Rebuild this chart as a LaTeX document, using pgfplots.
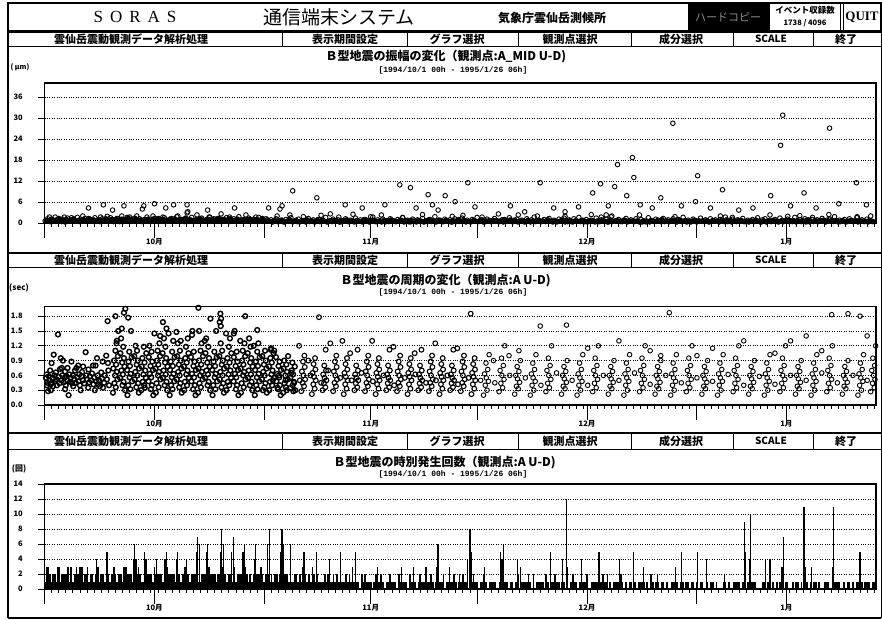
\documentclass[border=0pt]{standalone}
\usepackage{fontspec}
\usepackage{pgfplots}
\usepackage{pgfplotstable}
\pgfplotsset{compat=1.18}
\newfontfamily\jp{Noto Sans CJK JP}
\newfontfamily\lserif{Liberation Serif}
\newfontfamily\lmono{Liberation Mono}
\newcommand\tickfont{\jp\bfseries\fontsize{7.5}{7.5}\selectfont}
\newcommand\menufont{\jp\bfseries\fontsize{11}{11}\selectfont}
\newcommand\titlefont{\jp\bfseries\fontsize{12}{12}\selectfont}
\newcommand\subfont{\lmono\bfseries\fontsize{8}{8}\selectfont}

\pgfplotsset{
  soras/.style={
    scale only axis, width=831.5pt,
    xmin=0, xmax=117.25, clip=false,
    axis line style={line width=1.3pt, black},
    tick pos=left, tick align=outside,
    xtick={0,31,61,92}, xticklabels={},
    minor xtick={1,2,...,117},
    xtick style={/pgfplots/major tick length=15pt, /pgfplots/minor tick length=4pt, line width=0.9pt, black},
    ytick style={/pgfplots/major tick length=6pt, line width=0.9pt, black},
    extra x ticks={15.5,46,76.5,104.6},
    extra x tick labels={10月,11月,12月,1月},
    extra x tick style={grid=none, /pgfplots/major tick length=0pt, xticklabel style={yshift=-12pt}},
    ymajorgrids, grid style={dotted, line width=0.7pt, black},
    ticklabel style={font=\tickfont},
    yticklabel style={xshift=-14pt},
    /pgf/number format/assume math mode=true,
  },
  circ/.style={only marks, mark=o, mark size=2.3pt, mark options={line width=0.9pt, black}},
  circm/.style={only marks, mark=o, mark size=2.4pt, mark options={line width=1.1pt, black}},
  circb/.style={only marks, mark=o, mark size=2.4pt, mark options={line width=1.4pt, black}},
  dot/.style={only marks, mark=*, mark size=2.5pt, mark options={black}},
}

\newcommand\menubar[3]{%
  \draw[line width=1.6pt] (8,#1) -- (881,#1);
  \draw[line width=1pt] (8,#2) -- (881,#2);
  \foreach \xx in {282,407,518,631,733,813} \draw[line width=1pt] (\xx,#1) -- (\xx,#2);
  \node[font=\menufont] at (131,#3) {雲仙岳震動観測データ解析処理};
  \node[font=\menufont] at (345,#3) {表示期間設定};
  \node[font=\menufont] at (457,#3) {グラフ選択};
  \node[font=\menufont] at (570,#3) {観測点選択};
  \node[font=\menufont] at (681,#3) {成分選択};
  \node[font=\jp\bfseries\fontsize{10}{10}\selectfont] at (771,#3) {SCALE};
  \node[font=\menufont] at (846,#3) {終了};
}

% amplitude: small events (open circles), step 0.35 day from day 0.1
\pgfplotstableread[row sep=\\]{v\\
.6\\1.2\\.4\\.9\\1.7\\.5\\.8\\1.1\\.3\\1.4\\
.7\\1.0\\.5\\1.6\\.4\\.9\\1.3\\.6\\1.1\\.5\\
1.5\\.8\\.4\\1.2\\.7\\1.9\\.5\\1.0\\.6\\1.3\\
.4\\1.1\\.8\\1.6\\.5\\.9\\1.4\\.7\\1.2\\.4\\
1.0\\1.7\\.6\\.9\\1.3\\.5\\1.1\\.8\\1.5\\.6\\
.9\\1.3\\.5\\1.8\\.7\\1.0\\.4\\1.2\\.8\\1.6\\
.5\\1.1\\.9\\1.4\\.6\\1.0\\1.7\\.5\\1.2\\.8\\
1.3\\.6\\1.0\\1.5\\.4\\.9\\1.2\\.7\\1.8\\.5\\
1.0\\.7\\1.4\\.5\\1.1\\.8\\1.6\\.6\\.9\\1.2\\
.6\\.9\\.4\\1.2\\.5\\.8\\.3\\1.0\\.6\\1.5\\
.4\\.8\\1.1\\.5\\.7\\.3\\1.3\\.6\\.9\\.4\\
1.0\\.5\\.8\\1.6\\.4\\.7\\1.1\\.5\\.9\\.3\\
.7\\1.2\\.4\\.8\\.6\\1.4\\.5\\.9\\.3\\1.0\\
.5\\.8\\1.7\\.4\\.9\\.6\\1.1\\.3\\.7\\1.2\\
.6\\.4\\1.0\\.7\\1.5\\.5\\.8\\.3\\1.1\\.6\\
.9\\.5\\1.3\\.4\\.7\\1.0\\.6\\1.8\\.5\\.8\\
.4\\1.1\\.6\\.9\\.3\\1.2\\.7\\.5\\1.4\\.6\\
.8\\.4\\1.0\\.6\\1.6\\.5\\.9\\.3\\1.1\\.7\\
.5\\1.3\\.7\\.4\\.9\\1.0\\.6\\1.5\\.4\\.8\\
1.1\\.5\\.8\\.3\\1.2\\.6\\.9\\1.7\\.5\\.7\\
.4\\1.0\\.6\\1.3\\.5\\.8\\.3\\1.1\\.7\\1.4\\
.6\\.9\\.4\\1.2\\.5\\1.6\\.7\\.3\\1.0\\.6\\
.8\\.5\\1.4\\.4\\.9\\.6\\1.1\\.3\\1.8\\.5\\
.7\\1.0\\.4\\.8\\1.3\\.5\\.9\\.6\\1.2\\.4\\
1.0\\.6\\.3\\1.5\\.7\\.5\\1.1\\.8\\.4\\1.3\\
.5\\.9\\.6\\1.2\\.4\\1.0\\.7\\1.6\\.5\\.8\\
.3\\1.1\\.7\\.5\\1.4\\.6\\.9\\.4\\1.2\\.7\\
.9\\.5\\1.0\\.6\\1.7\\.4\\.8\\1.1\\.5\\.9\\
.6\\1.3\\.4\\.8\\.5\\1.0\\.7\\1.5\\.3\\.9\\
1.2\\.5\\.8\\.6\\1.0\\.4\\1.4\\.7\\.5\\1.1\\
.7\\.4\\1.6\\.6\\.9\\.5\\1.2\\.8\\.3\\1.0\\
.5\\.9\\.7\\1.3\\.4\\.8\\1.1\\.6\\1.8\\.5\\
.8\\.6\\1.0\\.4\\1.2\\.7\\.5\\1.5\\.6\\.9\\
.4\\1.1\\.7\\.5\\
}\ampband

% amplitude: densest small events (overlapping, drawn solid), step 0.35 day from day 0.275
\pgfplotstableread[row sep=\\]{v\\
.8\\.5\\1.1\\.6\\.9\\1.3\\.4\\.7\\1.0\\.6\\
.9\\1.2\\.5\\.8\\.6\\1.0\\.7\\1.3\\.5\\.9\\
.6\\1.0\\.8\\.5\\1.2\\.7\\.9\\.4\\1.1\\.8\\
1.0\\.6\\.9\\1.4\\.5\\.8\\1.1\\.7\\.9\\.6\\
.7\\1.1\\.5\\.9\\.8\\1.3\\.6\\1.0\\.5\\.8\\
1.2\\.7\\.9\\.5\\1.0\\.8\\1.4\\.6\\.9\\.7\\
.6\\.9\\1.2\\.7\\.5\\1.1\\.8\\1.0\\.6\\1.3\\
.8\\1.0\\.5\\.9\\1.2\\.6\\.8\\1.1\\.7\\.9\\
.5\\.9\\1.1\\.6\\.8\\1.0\\.7\\1.3\\.5\\.9\\
.5\\.3\\.7\\.4\\.6\\.8\\.3\\.5\\.9\\.4\\
.6\\.4\\.3\\.7\\.5\\.9\\.4\\.6\\.3\\.8\\
.4\\.7\\.5\\.3\\.6\\.4\\.8\\.5\\.3\\.7\\
.5\\.9\\.4\\.6\\.3\\.7\\.5\\.4\\1.0\\.5\\
.3\\.6\\.8\\.4\\.5\\.3\\.7\\.6\\.4\\.9\\
.6\\.4\\.5\\.8\\.3\\.6\\.4\\.7\\.5\\.3\\
.7\\.5\\.3\\.6\\.9\\.4\\.5\\.3\\.8\\.6\\
.4\\.8\\.5\\.3\\.6\\.4\\1.0\\.5\\.7\\.3\\
.5\\.3\\.7\\.5\\.4\\.8\\.3\\.6\\.5\\.4\\
.8\\.5\\.4\\.6\\.3\\.7\\.5\\.9\\.4\\.6\\
.3\\.6\\.5\\.4\\.8\\.3\\.6\\.4\\.7\\.5\\
.6\\.4\\.9\\.5\\.3\\.6\\.4\\.5\\.8\\.3\\
.4\\.7\\.3\\.6\\.5\\.4\\.8\\.5\\.3\\.6\\
.5\\.3\\.6\\.4\\.7\\.5\\.3\\.9\\.4\\.5\\
.7\\.5\\.4\\.8\\.3\\.6\\.5\\.4\\.6\\.3\\
.3\\.6\\.5\\.3\\.7\\.4\\.6\\.5\\1.0\\.4\\
.6\\.4\\.7\\.5\\.3\\.8\\.4\\.6\\.3\\.5\\
.4\\.8\\.3\\.6\\.5\\.4\\.7\\.3\\.5\\.6\\
.5\\.3\\.6\\.4\\.9\\.5\\.3\\.6\\.4\\.7\\
.7\\.4\\.5\\.3\\.6\\.4\\.8\\.5\\.3\\.6\\
.3\\.6\\.4\\.7\\.5\\.3\\.6\\.4\\.8\\.5\\
.5\\.7\\.3\\.5\\.4\\.6\\.3\\.9\\.5\\.4\\
.6\\.4\\.5\\.8\\.3\\.5\\.6\\.4\\.7\\.3\\
.4\\.6\\.3\\.5\\.7\\.4\\.5\\.3\\.6\\.5\\
.5\\.3\\.6\\.4\\
}\ampdense

% hourly counts, background level, step 0.25 day
\pgfplotstableread[row sep=\\]{c\\
2\\1\\3\\2\\ 1\\2\\2\\1\\ 3\\1\\2\\2\\ 2\\2\\1\\3\\ 1\\2\\2\\2\\ 2\\3\\1\\2\\ 2\\1\\2\\2\\ 1\\2\\3\\1\\ 2\\2\\1\\2\\ 2\\1\\2\\3\\
2\\1\\2\\2\\ 1\\2\\3\\2\\ 2\\2\\1\\2\\ 2\\3\\2\\1\\ 1\\2\\2\\2\\ 2\\1\\3\\2\\ 2\\2\\2\\1\\ 1\\3\\2\\2\\ 2\\2\\1\\2\\ 2\\1\\2\\3\\
3\\2\\1\\2\\ 2\\2\\3\\1\\ 1\\2\\2\\2\\ 2\\3\\2\\2\\ 2\\1\\2\\2\\ 3\\2\\2\\1\\ 2\\2\\1\\3\\ 1\\2\\2\\2\\ 2\\3\\2\\1\\ 2\\1\\2\\2\\ 2\\2\\3\\2\\
1\\2\\2\\1\\ 2\\1\\2\\2\\ 1\\2\\1\\2\\ 2\\2\\1\\1\\ 1\\2\\2\\1\\ 2\\1\\1\\2\\ 1\\2\\1\\1\\ 2\\1\\2\\1\\ 1\\1\\2\\1\\ 2\\1\\1\\2\\
1\\2\\1\\1\\ 1\\1\\2\\1\\ 2\\1\\1\\1\\ 1\\1\\0\\2\\ 1\\2\\1\\1\\ 1\\0\\1\\2\\ 1\\1\\2\\1\\ 0\\1\\1\\2\\ 1\\1\\1\\0\\ 2\\1\\1\\1\\
1\\0\\2\\1\\ 1\\1\\0\\1\\ 2\\1\\1\\0\\ 1\\1\\2\\1\\ 0\\1\\1\\1\\ 1\\2\\0\\1\\ 1\\1\\1\\2\\ 1\\0\\1\\1\\ 2\\1\\1\\0\\ 1\\1\\2\\1\\
1\\0\\1\\1\\ 2\\1\\0\\1\\ 1\\1\\1\\0\\ 0\\1\\2\\1\\ 1\\1\\0\\1\\ 1\\0\\1\\2\\ 0\\1\\1\\1\\ 1\\2\\1\\0\\ 0\\0\\1\\1\\ 1\\1\\0\\2\\
1\\0\\1\\1\\ 2\\1\\1\\0\\ 1\\1\\0\\1\\ 0\\1\\2\\1\\ 1\\0\\1\\1\\ 1\\1\\2\\0\\ 0\\1\\1\\1\\ 1\\0\\1\\2\\ 1\\1\\0\\1\\ 0\\1\\1\\1\\
1\\2\\1\\0\\ 1\\0\\1\\1\\ 0\\1\\0\\1\\ 1\\1\\1\\0\\ 1\\0\\2\\1\\ 0\\1\\1\\0\\ 1\\1\\0\\1\\ 0\\0\\1\\1\\ 1\\1\\0\\1\\ 1\\0\\1\\1\\ 0\\1\\1\\0\\
1\\0\\1\\1\\ 0\\0\\1\\0\\ 1\\1\\0\\1\\ 0\\0\\0\\1\\ 1\\0\\1\\0\\ 0\\1\\1\\1\\ 1\\0\\1\\2\\ 0\\1\\0\\1\\ 1\\1\\0\\0\\ 0\\1\\1\\0\\
1\\0\\0\\1\\ 0\\1\\0\\1\\ 1\\0\\1\\1\\ 0\\0\\1\\0\\ 1\\1\\0\\1\\ 0\\1\\1\\0\\ 1\\0\\1\\1\\ 0\\1\\0\\0\\ 1\\1\\1\\0\\ 0\\0\\1\\1\\
1\\0\\0\\1\\ 0\\1\\1\\0\\ 1\\0\\1\\1\\ 0\\1\\0\\1\\ 1\\1\\0\\1\\ 1\\
}\countbase

\begin{document}
\begin{tikzpicture}[x=1pt,y=1pt]
\path[use as bounding box, fill=white] (0,0) rectangle (882,-619);

% ---------- header ----------
\draw[line width=1.2pt] (8,-3) rectangle (881,-31);
\fill[black] (688,-4) rectangle (769,-30);
\draw[line width=1pt] (769,-3) -- (769,-31);
\draw[line width=1pt] (840,-3) -- (840,-31);
\draw[line width=1pt] (843,-3) -- (843,-31);
\node[font=\lserif\fontsize{17}{17}\selectfont] at (135,-17) {S\hspace{7pt}O\hspace{7pt}R\hspace{7pt}A\hspace{7pt}S};
\node[font=\jp\fontsize{19}{19}\selectfont] at (339,-17) {通信端末システム};
\node[font=\jp\bfseries\fontsize{12}{12}\selectfont] at (552,-18) {気象庁雲仙岳測候所};
\node[font=\jp\fontsize{11}{11}\selectfont, text=black!45] at (728,-17) {ハードコピー};
\node[font=\jp\bfseries\fontsize{8.5}{8.5}\selectfont] at (805,-10) {イベント収録数};
\node[font=\jp\bfseries\fontsize{7.5}{7.5}\selectfont] at (805,-23) {1738 / 4096};
\node[font=\lserif\bfseries\fontsize{13}{13}\selectfont] at (862,-17) {QUIT};

% ---------- frame ----------
\draw[line width=2pt] (8,-3) -- (8,-618);
\draw[line width=0.8pt] (881,-3) -- (881,-618);
\draw[line width=2pt] (8,-617.5) -- (881,-617.5);

% ---------- menu bars ----------
\menubar{-32}{-46}{-39}
\menubar{-253}{-267}{-260}
\menubar{-433}{-449}{-441}

% ---------- titles ----------
\node[font=\titlefont, anchor=west] at (322,-57) {Ｂ型地震の振幅の変化（観測点:A\_MID U-D)};
\node[font=\subfont, anchor=west] at (375,-70) {[1994/10/1 00h - 1995/1/26 06h]};
\node[font=\jp\bfseries\fontsize{7}{7}\selectfont] at (20,-67) {( μm)};

\node[font=\titlefont, anchor=west] at (337,-281) {Ｂ型地震の周期の変化（観測点:A U-D)};
\node[font=\subfont, anchor=west] at (375,-292) {[1994/10/1 00h - 1995/1/26 06h]};
\node[font=\jp\bfseries\fontsize{8}{8}\selectfont] at (19,-288) {(sec)};

\node[font=\titlefont, anchor=west] at (330,-463) {Ｂ型地震の時別発生回数（観測点:A U-D)};
\node[font=\subfont, anchor=west] at (375,-474) {[1994/10/1 00h - 1995/1/26 06h]};
\node[font=\jp\bfseries\fontsize{8}{8}\selectfont] at (19,-469) {(回)};

% ---------- panel 1: amplitude ----------
\begin{axis}[soras, at={(44.5pt,-223pt)}, anchor=south west, height=140pt,
  ymin=0, ymax=40, ytick={0,6,12,18,24,30,36}]
\addplot[dot] table[x expr=\coordindex*0.35+0.275, y=v] {\ampdense};
\addplot[circ] table[x expr=\coordindex*0.35+0.1, y=v] {\ampband};
\addplot[circ] coordinates {
(0.7,1.7)(2.8,1.7)(3.8,1.5)(5.4,2)(7.9,1.7)(9.3,1.5)(10.9,2)(12,1.7)(13,2)(15.3,2)
(16.7,1.7)(18.8,2)(20.2,3.2)(21.5,2.3)(23.3,1.7)(24.9,2.6)(26.1,1.7)(28.4,2.3)(29.8,1.7)(32.8,2)(34.6,2.3)
(36.5,1.8)(39,2.2)(41.5,1.7)(43.5,2.5)(46,1.8)(47.5,2.3)(50.5,1.6)(53.3,2.4)(57.5,1.9)(59,2.2)
(61.7,1.7)(66.8,2.3)(69.5,2.0)(73.4,1.9)(77.1,2.4)(78.5,1.7)(79.2,2.3)(80,2.0)(83.9,2.3)(88.9,1.8)
(95.3,2.0)(97,1.6)(102.3,2.3)(104.8,1.9)(106.5,2.1)(108.3,1.6)(110.6,2.4)(114.6,1.8)(116.5,2.0)
(6.2,4.3)(8.3,5.2)(9.6,3.7)(11.2,4.9)(13.8,4.0)(14.0,4.9)(15.5,5.5)(17.1,4.3)(18.2,5.2)(20.1,5.2)
(20.1,2.9)(23.0,3.7)(26.8,4.3)(31.6,4.3)(33.2,4.0)(33.5,4.9)(35.0,9.2)
(38.4,7.2)(40.3,2.6)(42.4,5.2)(44.8,4.3)(48.0,5.2)(50.1,10.9)(51.6,10.1)(52.4,4.3)(54.1,8.1)(54.7,5.2)
(55.5,3.7)(56.5,7.8)(57.9,6.1)(59.7,11.5)(60.7,4.6)(64.0,2.6)(65.7,4.9)(67.7,3.2)(69.9,11.5)(71.8,4.3)
(73.4,3.2)(75.3,4.6)(77.3,8.6)(78.4,11.2)(79.5,4.9)(80.4,10.4)(80.8,16.7)(82.1,7.8)(82.9,18.7)(83.1,13.0)
(84.0,5.2)(85.7,4.3)(86.9,7.2)(88.6,28.5)(89.8,4.9)(91.8,6.1)(92.1,13.5)(93.9,4.3)(95.6,9.5)(97.9,3.7)
(99.9,4.3)(102.4,7.8)(103.8,22.2)(104.1,30.8)(105.2,4.9)(107.1,8.6)(108.8,4.3)(110.7,27.1)(112.0,5.5)(114.5,11.5)(115.9,5.2)
};
\end{axis}

% ---------- panel 2: period ----------
\begin{axis}[soras, at={(44.5pt,-405pt)}, anchor=south west, height=98.7pt,
  ymin=0, ymax=2.0, ytick={0,0.3,0.6,0.9,1.2,1.5,1.8},
  yticklabel style={/pgf/number format/.cd, fixed, fixed zerofill, precision=1}]
% early October band
\addplot[circb] coordinates {
(0.2,.55)(0.3,.62)(0.4,.45)(0.5,.28)(0.6,.58)(0.7,.5)(0.8,.7)(0.9,.42)(1.0,.85)(1.1,.55)(1.2,.38)(1.3,1.02)
(1.4,.6)(1.5,.48)(1.6,.66)(1.7,.52)(1.9,1.43)(2.0,.57)(2.1,.44)(2.2,.73)(2.3,.95)(2.4,.5)(2.5,.6)(2.6,.9)
(2.7,.46)(2.8,.55)(2.9,.68)(3.0,.4)(3.1,.58)(3.2,.5)(3.4,.2)(3.5,.62)(3.6,.47)(3.7,.55)(3.8,.88)(3.9,.44)
(4.0,.6)(4.2,.52)(4.3,.7)(4.4,.45)(4.5,.75)(4.6,.56)(4.8,.48)(4.9,.62)(5.0,.4)(5.2,.58)(5.3,.67)(5.4,.5)
(5.6,.44)(5.8,1.07)(5.9,.6)(6.0,.52)(6.2,.72)(6.3,.46)(6.4,.58)(6.6,.5)(6.7,.64)(6.9,.42)(7.0,.55)(7.2,.8)
(7.3,.48)(7.4,.95)(7.5,.6)(7.7,.5)(7.8,.38)(8.0,.66)(8.1,.54)(8.2,.88)(8.4,.45)(8.5,.6)(8.7,1.0)(8.8,.52)
(9.0,.7)(9.1,.4)(0.35,.4)(1.05,.45)(1.75,.4)(2.45,.75)(3.25,.75)(4.05,.38)(4.75,.8)(5.45,.78)(6.15,.35)
(6.85,.8)(7.55,.42)(8.25,.35)(8.95,.85)(0.9,.3)(2.9,.32)(5.1,.3)(7.1,.3)
};
% October-early November daily bursts
\addplot[circb] coordinates {
(9.65,.25)(10.05,.36)(9.85,.44)(10.3,.52)(9.95,.6)(10.2,.67)(9.7,.74)(10.1,.82)(9.8,.9)(10.35,.99)(10,1.1)(10.15,1.25)
(10.65,.55)(11.05,.62)(10.85,.7)(11.3,.78)(10.95,.86)(11.2,.95)(10.7,1.05)(11.1,1.18)(10.8,1.35)(11.35,.3)(11,.4)(11.15,.47)
(11.65,.71)(12.05,.79)(11.85,.88)(12.3,.97)(11.95,1.08)(12.2,1.5)(11.7,.2)(12.1,.32)(11.8,.4)(12.35,.48)(12,.56)(12.15,.63)
(12.65,.99)(13.05,1.1)(12.85,1.2)(13.3,.25)(12.95,.36)(13.2,.44)(12.7,.52)(13.1,.6)(12.8,.67)(13.35,.74)(13,.82)(13.15,.9)
(13.65,.3)(14.05,.4)(13.85,.47)(14.3,.55)(13.95,.62)(14.2,.7)(13.7,.78)(14.1,.86)(13.8,.95)(14.35,1.05)(14,1.18)(14.15,.35)
(14.65,.48)(15.05,.56)(14.85,.63)(15.3,.71)(14.95,.79)(15.2,.88)(14.7,.97)(15.1,1.08)(14.8,1.2)(15.35,.2)(15,.32)(15.15,.4)
(15.65,.74)(16.05,.82)(15.85,.9)(16.3,.99)(15.95,1.1)(16.2,1.25)(15.7,.25)(16.1,.36)(15.8,.44)(16.35,.52)(16,.6)(16.15,.67)
(16.65,1.05)(17.05,1.18)(16.85,1.35)(17.3,.3)(16.95,.4)(17.2,.47)(16.7,.55)(17.1,.62)(16.8,.7)(17.35,.78)(17,.86)(17.15,.95)
(17.65,.2)(18.05,.32)(17.85,.4)(18.3,.48)(17.95,.56)(18.2,.63)(17.7,.71)(18.1,.79)(17.8,.88)(18.35,.97)(18,1.08)(18.15,1.3)
(18.65,.52)(19.05,.6)(18.85,.67)(19.3,.74)(18.95,.82)(19.2,.9)(18.7,.99)(19.1,1.1)(18.8,1.25)(19.35,.25)(19,.36)(19.15,.44)
(19.65,.78)(20.05,.86)(19.85,.95)(20.3,1.05)(19.95,1.18)(20.2,1.35)(19.7,.3)(20.1,.4)(19.8,.47)(20.35,.55)(20,.62)(20.15,.7)
(20.65,.97)(21.05,1.08)(20.85,1.5)(21.3,.2)(20.95,.32)(21.2,.4)(20.7,.48)(21.1,.56)(20.8,.63)(21.35,.71)(21,.79)(21.15,.88)
(21.65,.25)(22.05,.36)(21.85,.44)(22.3,.52)(21.95,.6)(22.2,.67)(21.7,.74)(22.1,.82)(21.8,.9)(22.35,.99)(22,1.1)(22.15,1.25)
(22.65,.55)(23.05,.62)(22.85,.7)(23.3,.78)(22.95,.86)(23.2,.95)(22.7,1.05)(23.1,1.18)(22.8,1.35)(23.35,.3)(23,.4)(23.15,.47)
(23.65,.71)(24.05,.79)(23.85,.88)(24.3,.97)(23.95,1.08)(24.2,1.5)(23.7,.2)(24.1,.32)(23.8,.4)(24.35,.48)(24,.56)(24.15,.63)
(24.65,.99)(25.05,1.1)(24.85,1.25)(25.3,.25)(24.95,.36)(25.2,.44)(24.7,.52)(25.1,.6)(24.8,.67)(25.35,.74)(25,.82)(25.15,.9)
(25.65,.3)(26.05,.4)(25.85,.47)(26.3,.55)(25.95,.62)(26.2,.7)(25.7,.78)(26.1,.86)(25.8,.95)(26.35,1.05)(26,1.18)(26.15,1.35)
(26.65,.48)(27.05,.56)(26.85,.63)(27.3,.71)(26.95,.79)(27.2,.88)(26.7,.97)(27.1,1.08)(26.8,1.5)(27.35,.2)(27,.32)(27.15,.4)
(27.65,.74)(28.05,.82)(27.85,.9)(28.3,.99)(27.95,1.1)(28.2,1.25)(27.7,.25)(28.1,.36)(27.8,.44)(28.35,.52)(28,.6)(28.15,.67)
(28.65,1.05)(29.05,1.18)(28.85,1.35)(29.3,.3)(28.95,.4)(29.2,.47)(28.7,.55)(29.1,.62)(28.8,.7)(29.35,.78)(29,.86)(29.15,.95)
(29.65,.2)(30.05,.32)(29.85,.4)(30.3,.48)(29.95,.56)(30.2,.63)(29.7,.71)(30.1,.79)(29.8,.88)(30.35,.97)(30,1.08)(30.15,1.25)
(30.65,.52)(31.05,.6)(30.85,.67)(31.3,.74)(30.95,.82)(31.2,.9)(30.7,.99)(31.1,1.1)(30.8,.3)(31.35,.25)(31,.36)(31.15,.44)
(31.65,.78)(32.05,.86)(31.85,.95)(32.3,1.05)(31.95,1.15)(32.2,.5)(31.7,.3)(32.1,.4)(31.8,.47)(32.35,.55)(32,.62)(32.15,.7)
(32.65,.97)(33.05,.6)(32.85,.35)(33.3,.2)(32.95,.32)(33.2,.4)(32.7,.48)(33.1,.56)(32.8,.63)(33.35,.71)(33,.79)(33.15,.88)
(33.65,.25)(34.05,.36)(33.85,.44)(34.3,.52)(33.95,.6)(34.2,.67)(33.7,.74)(34.1,.82)(33.8,.9)(34.35,.99)(34,.5)(34.15,.3)
(34.65,.55)(35.05,.62)(34.85,.7)(35.3,.78)(34.95,.86)(35.2,.45)(34.7,.35)(35.1,.28)(34.8,.65)(35.35,.3)(35,.4)(35.15,.47)
(8.9,1.7)(10.0,1.8)(11.2,1.87)(11.4,1.95)(11.8,1.77)(10.2,1.3)(10.4,1.5)(10.9,1.55)(16.7,1.68)(17.2,1.55)
(16.3,1.4)(17.5,1.45)(19.2,1.3)(21.7,1.97)(21.8,1.5)(20.8,1.42)(24.8,1.85)(24.9,1.75)(24.7,1.68)(24.85,1.6)
(23.4,1.75)(28.3,1.8)(26.7,1.45)(30.0,1.52)(31.9,1.12)(32.4,1.1)(15.5,1.45)(18.6,1.48)(22.6,1.3)(25.6,1.45)(27.6,1.3)(29.5,1.2)
};
% November
\addplot[circm] coordinates {
(36.2,.28)(36.6,.38)(36.4,.45)(36.75,.52)(36.5,.6)(36.3,.68)(36.7,.77)(36.45,.88)(36.65,1.0)
(37.7,.22)(38.1,.33)(37.9,.42)(38.25,.5)(38,.57)(37.8,.65)(38.2,.72)(37.95,.83)(38.15,.95)
(39.2,.3)(39.6,.36)(39.4,.44)(39.75,.5)(39.5,.55)(39.3,.62)(39.7,.7)(39.45,.8)(39.65,1.12)
(40.7,.28)(41.1,.38)(40.9,.45)(41.25,.52)(41,.6)(40.8,.68)(41.2,.77)(40.95,.88)(41.15,1.0)
(42.2,.22)(42.6,.33)(42.4,.42)(42.75,.5)(42.5,.57)(42.3,.65)(42.7,.72)(42.45,.83)(42.65,.95)
(43.7,.3)(44.1,.36)(43.9,.44)(44.25,.5)(44,.55)(43.8,.62)(44.2,.7)(43.95,.8)(44.15,1.12)
(45.2,.28)(45.6,.38)(45.4,.45)(45.75,.52)(45.5,.6)(45.3,.68)(45.7,.77)(45.45,.88)(45.65,1.0)
(46.7,.22)(47.1,.33)(46.9,.42)(47.25,.5)(47,.57)(46.8,.65)(47.2,.72)(46.95,.83)(47.15,.95)
(48.2,.3)(48.6,.36)(48.4,.44)(48.75,.5)(48.5,.55)(48.3,.62)(48.7,.7)(48.45,.8)(48.65,1.12)
(49.7,.28)(50.1,.38)(49.9,.45)(50.25,.52)(50,.6)(49.8,.68)(50.2,.77)(49.95,.88)(50.15,1.0)
(51.2,.22)(51.6,.33)(51.4,.42)(51.75,.5)(51.5,.57)(51.3,.65)(51.7,.72)(51.45,.83)(51.65,.95)
(52.7,.3)(53.1,.36)(52.9,.44)(53.25,.5)(53,.55)(52.8,.62)(53.2,.7)(52.95,.8)(53.15,1.12)
(54.2,.28)(54.6,.38)(54.4,.45)(54.75,.52)(54.5,.6)(54.3,.68)(54.7,.77)(54.45,.88)(54.65,1.0)
(55.7,.22)(56.1,.33)(55.9,.42)(56.25,.5)(56,.57)(55.8,.65)(56.2,.72)(55.95,.83)(56.15,.95)
(57.2,.3)(57.6,.36)(57.4,.44)(57.75,.5)(57.5,.55)(57.3,.62)(57.7,.7)(57.45,.8)(57.65,1.12)
(58.7,.28)(59.1,.38)(58.9,.45)(59.25,.52)(59,.6)(58.8,.68)(59.2,.77)(58.95,.88)(59.15,1.0)
(60.2,.22)(60.6,.33)(60.4,.42)(60.75,.5)(60.5,.57)(60.3,.65)(60.7,.72)(60.45,.83)(60.65,.95)
(38.7,1.78)(35.9,1.2)(37.2,.9)(40.3,1.25)(43.1,1.05)(46.2,1.3)(49.2,1.18)(52.2,1.05)(55.1,1.25)(58.2,1.15)
(60.1,1.85)(42,1.3)(36,.5)(37.5,.6)(39,.45)(40,.7)(41.7,.55)(43.3,.5)(44.7,.65)(46.3,.48)(47.8,.6)
(49.3,.4)(50.8,.55)(52.3,.62)(53.8,.45)(55.2,.5)(56.8,.6)(58.3,.42)(59.8,.55)
};
% December - January
\addplot[circ] coordinates {
(61.9,.2)(62.4,.3)(62.15,.4)(62.6,.48)(62.3,.55)(62.05,.63)(62.5,.72)(62.25,.85)(62.7,1.02)
(64.1,.27)(64.6,.35)(64.35,.44)(64.8,.52)(64.5,.6)(64.25,.7)(64.7,.8)(64.45,.95)(64.9,1.2)
(66.3,.22)(66.8,.33)(66.55,.38)(67,.46)(66.7,.53)(66.45,.6)(66.9,.68)(66.65,.78)(67.1,.9)
(68.5,.2)(69,.3)(68.75,.4)(69.2,.48)(68.9,.55)(68.65,.63)(69.1,.72)(68.85,.85)(69.3,1.02)
(70.7,.27)(71.2,.35)(70.95,.44)(71.4,.52)(71.1,.6)(70.85,.7)(71.3,.8)(71.05,.95)(71.5,1.2)
(72.9,.22)(73.4,.33)(73.15,.38)(73.6,.46)(73.3,.53)(73.05,.6)(73.5,.68)(73.25,.78)(73.7,.9)
(75.1,.2)(75.6,.3)(75.35,.4)(75.8,.48)(75.5,.55)(75.25,.63)(75.7,.72)(75.45,.85)(75.9,1.02)
(77.3,.27)(77.8,.35)(77.55,.44)(78,.52)(77.7,.6)(77.45,.7)(77.9,.8)(77.65,.95)(78.1,1.2)
(79.5,.22)(80,.33)(79.75,.38)(80.2,.46)(79.9,.53)(79.65,.6)(80.1,.68)(79.85,.78)(80.3,.9)
(81.7,.2)(82.2,.3)(81.95,.4)(82.4,.48)(82.1,.55)(81.85,.63)(82.3,.72)(82.05,.85)(82.5,1.02)
(83.9,.27)(84.4,.35)(84.15,.44)(84.6,.52)(84.3,.6)(84.05,.7)(84.5,.8)(84.25,.95)(84.7,1.2)
(86.1,.22)(86.6,.33)(86.35,.38)(86.8,.46)(86.5,.53)(86.25,.6)(86.7,.68)(86.45,.78)(86.9,.9)
(88.3,.2)(88.8,.3)(88.55,.4)(89,.48)(88.7,.55)(88.45,.63)(88.9,.72)(88.65,.85)(89.1,1.02)
(90.5,.27)(91,.35)(90.75,.44)(91.2,.52)(90.9,.6)(90.65,.7)(91.1,.8)(90.85,.95)(91.3,1.2)
(92.7,.22)(93.2,.33)(92.95,.38)(93.4,.46)(93.1,.53)(92.85,.6)(93.3,.68)(93.05,.78)(93.5,.9)
(94.9,.2)(95.4,.3)(95.15,.4)(95.6,.48)(95.3,.55)(95.05,.63)(95.5,.72)(95.25,.85)(95.7,1.02)
(97.1,.27)(97.6,.35)(97.35,.44)(97.8,.52)(97.5,.6)(97.25,.7)(97.7,.8)(97.45,.95)(97.9,1.2)
(99.3,.22)(99.8,.33)(99.55,.38)(100,.46)(99.7,.53)(99.45,.6)(99.9,.68)(99.65,.78)(100.1,.9)
(101.5,.2)(102,.3)(101.75,.4)(102.2,.48)(101.9,.55)(101.65,.63)(102.1,.72)(101.85,.85)(102.3,1.02)
(103.7,.27)(104.2,.35)(103.95,.44)(104.4,.52)(104.1,.6)(103.85,.7)(104.3,.8)(104.05,.95)(104.5,1.2)
(105.9,.22)(106.4,.33)(106.15,.38)(106.6,.46)(106.3,.53)(106.05,.6)(106.5,.68)(106.25,.78)(106.7,.9)
(108.1,.2)(108.6,.3)(108.35,.4)(108.8,.48)(108.5,.55)(108.25,.63)(108.7,.72)(108.45,.85)(108.9,1.02)
(110.3,.27)(110.8,.35)(110.55,.44)(111,.52)(110.7,.6)(110.45,.7)(110.9,.8)(110.65,.95)(111.1,1.2)
(112.5,.22)(113,.33)(112.75,.38)(113.2,.46)(112.9,.53)(112.65,.6)(113.1,.68)(112.85,.78)(113.3,.9)
(114.7,.2)(115.2,.3)(114.95,.4)(115.4,.48)(115.1,.55)(114.85,.63)(115.3,.72)(115.05,.85)(115.5,1.02)
(116.5,.27)(117,.35)(116.75,.44)(117.1,.52)(116.9,.6)(116.65,.7)(117.05,.8)(116.8,.95)(117.2,1.2)
(61.5,.5)(63.3,.9)(63.5,.45)(65.6,.6)(65.5,1.0)(67.8,.55)(69.9,1.6)(70,.4)(72.2,.65)(73.6,1.62)
(74.4,.5)(76.6,1.15)(76.6,.4)(78.8,.6)(81,1.3)(81,.5)(83.2,.65)(85.4,.42)(85.4,1.1)(87.6,.6)
(88.1,1.87)(89.8,.45)(92,.55)(92,1.0)(94.2,1.15)(94.2,.48)(96.4,.62)(98.6,1.3)(98.6,.4)(100.8,.58)
(103,1.05)(103,.42)(105.2,1.3)(105.2,.6)(107.4,1.4)(107.4,.5)(109.6,.65)(109.6,1.1)(111,1.83)(111.8,.45)
(113.3,1.85)(114,.6)(115,1.8)(116,1.4)(116,.5)(86.9,1.0)(66.9,1.1)
};
\end{axis}

% ---------- panel 3: hourly counts ----------
\begin{axis}[soras, at={(44.5pt,-589pt)}, anchor=south west, height=105pt,
  ymin=0, ymax=14, ytick={0,2,4,6,8,10,12,14}]
\addplot[ycomb, black, line width=1.8pt, mark=none] table[x expr=\coordindex*0.25, y=c] {\countbase};
\addplot[ycomb, black, line width=1.2pt, mark=none] coordinates {
(0.3,3)(1.8,3)(3.3,3)(4.5,3)(6.1,3)(7.3,4)(8.8,5)(9.9,3)(11.2,3)(12.7,6)(14.1,5)(15.8,4)(17.2,5)(18.8,5)
(20,4)(21.6,7)(23,6)(25,8)(26.6,7)(28.2,6)(29.8,6)(31.7,8)(33.5,8)(34.7,6)
(12.5,4)(12.9,4)(14.3,4)(17.0,4)(18.6,4)(21.4,5)(21.8,6)(22.8,5)(24.8,5)(25.2,6)(26.4,5)(28.0,5)
(29.6,4)(31.5,6)(33.3,5)(33.7,6)(2.6,2)(5.0,3)
(36.6,5)(37.8,3)(38.4,5)(40.2,4)(41.7,5)(43.4,3)(43.8,5)(45.2,2)(46.9,3)(48.6,2)(50.3,3)(52,3)(53.8,3)
(55.5,6)(57.1,3)(58.5,2)(59.9,6)(60,8)(62,3)(64.3,5)(64.7,6)(66.7,4)(67.1,3)(68.9,2)(71.3,5)(73,4)
(73.6,12)(75.7,4)(78.2,5)(79.4,2)(81.1,4)(83.1,5)(84.5,3)(86.4,2)(89,3)(89.8,5)(92.1,5)(93.4,4)
(95.9,2)(98.7,9)(99.6,10)(101.7,4)(102.3,4)(104.2,7)(107.1,11)(108.2,3)(111.3,11)(115,5)
(59.7,4)(60.2,5)(64.5,4)(55.3,3)(36.4,3)(73.8,3)(98.9,5)(99.4,4)(104.0,3)(107.3,3)(111.1,3)
};
\end{axis}
\end{tikzpicture}
\end{document}
